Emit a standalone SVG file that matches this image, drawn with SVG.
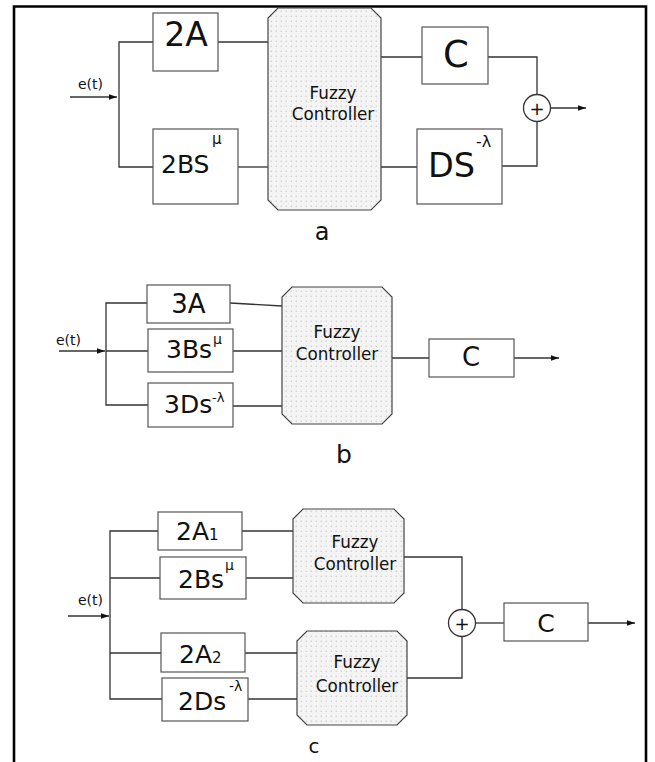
<svg xmlns="http://www.w3.org/2000/svg" width="655" height="762" viewBox="0 0 655 762">
<defs>
<pattern id="dots" width="5" height="5" patternUnits="userSpaceOnUse">
<rect width="5" height="5" fill="#f4f4f4"/>
<circle cx="1.2" cy="1.2" r="0.7" fill="#c8c8c8"/>
</pattern>
<marker id="arr" viewBox="0 0 10 10" refX="10" refY="5" markerWidth="8" markerHeight="8" markerUnits="userSpaceOnUse" orient="auto">
<path d="M0,1.5 L10,5 L0,8.5 Z" fill="#111"/>
</marker>
</defs>
<style>
text{font-family:"DejaVu Sans","Liberation Sans",sans-serif;fill:#111}
.box{fill:#fff;stroke:#555;stroke-width:1.2}
.fc{fill:url(#dots);stroke:#444;stroke-width:1.2}
.ln{fill:none;stroke:#333;stroke-width:1.3}
.sum{fill:#fff;stroke:#333;stroke-width:1.3}
.mid{text-anchor:middle}
.fct{font-size:16.8px;text-anchor:middle}
.et{font-size:14px}
</style>
<rect width="655" height="762" fill="#fff"/>
<path d="M14,762 L14,6.5 L646,6.5 L646,762" fill="none" stroke="#000" stroke-width="2.6"/>

<g id="connectors">
<!-- a -->
<line class="ln" x1="70" y1="97" x2="117" y2="97" marker-end="url(#arr)"/>
<path class="ln" d="M153,42 H119 V167 H153"/>
<line class="ln" x1="218" y1="42" x2="268" y2="42"/>
<line class="ln" x1="238" y1="167" x2="268" y2="167"/>
<line class="ln" x1="381" y1="57" x2="422" y2="57"/>
<line class="ln" x1="381" y1="167" x2="417" y2="167"/>
<path class="ln" d="M488,57 H537 V94.5"/>
<path class="ln" d="M502,166 H537 V121.5"/>
<line class="ln" x1="550.5" y1="108" x2="586" y2="108" marker-end="url(#arr)"/>
<!-- b -->
<line class="ln" x1="59" y1="351" x2="105" y2="351" marker-end="url(#arr)"/>
<path class="ln" d="M147,303 H106 V405 H148"/>
<line class="ln" x1="106" y1="351" x2="148" y2="351"/>
<line class="ln" x1="230" y1="303" x2="282" y2="306"/>
<line class="ln" x1="233" y1="351" x2="282" y2="351"/>
<line class="ln" x1="233" y1="406" x2="282" y2="406"/>
<line class="ln" x1="392" y1="358" x2="429" y2="358"/>
<line class="ln" x1="514" y1="358" x2="559" y2="358" marker-end="url(#arr)"/>
<!-- c -->
<line class="ln" x1="68" y1="616" x2="109" y2="616" marker-end="url(#arr)"/>
<path class="ln" d="M158,531 H110 V699 H162"/>
<line class="ln" x1="110" y1="578" x2="160" y2="578"/>
<line class="ln" x1="110" y1="653" x2="161" y2="653"/>
<line class="ln" x1="242" y1="531" x2="293" y2="531"/>
<line class="ln" x1="246" y1="578" x2="293" y2="578"/>
<line class="ln" x1="245" y1="653" x2="297" y2="653"/>
<line class="ln" x1="248" y1="699" x2="297" y2="699"/>
<path class="ln" d="M404,557 H462 V609.5"/>
<path class="ln" d="M407,678 H462 V636.5"/>
<line class="ln" x1="475.5" y1="623" x2="504" y2="623"/>
<line class="ln" x1="588" y1="623" x2="635" y2="623" marker-end="url(#arr)"/>
</g>

<g id="labels">
<text class="et" x="78" y="89">e(t)</text>
<text class="et" x="56" y="345">e(t)</text>
<text class="et" x="78" y="605">e(t)</text>
<text class="mid" x="322" y="240" font-size="24">a</text>
<text class="mid" x="344" y="463" font-size="25">b</text>
<text class="mid" x="314" y="753" font-size="20">c</text>
</g>

<!-- diagram a -->
<g id="a_2A">
<rect class="box" x="153" y="13" width="65" height="58"/>
<text class="mid" x="186" y="46" font-size="33">2A</text>
</g>
<g id="a_2BS">
<rect class="box" x="153" y="129" width="85" height="75"/>
<text x="161" y="173" font-size="25">2BS</text>
<text x="212" y="144" font-size="15">μ</text>
</g>
<g id="a_fc">
<polygon class="fc" points="278,8 371,8 381,18 381,200 371,210 278,210 268,200 268,18"/>
<text class="fct" x="333" y="99">Fuzzy</text>
<text class="fct" x="333" y="120">Controller</text>
</g>
<g id="a_C">
<rect class="box" x="422" y="27" width="66" height="57"/>
<text class="mid" x="456" y="67" font-size="37">C</text>
</g>
<g id="a_DS">
<rect class="box" x="417" y="129" width="85" height="75"/>
<text x="428" y="177" font-size="33.5">DS</text>
<text x="476" y="147" font-size="16">-λ</text>
</g>
<g id="a_sum">
<circle class="sum" cx="537" cy="108" r="13.5"/>
<text class="mid" x="537" y="114.5" font-size="18">+</text>
</g>

<!-- diagram b -->
<g id="b_3A">
<rect class="box" x="147" y="285" width="83" height="38"/>
<text class="mid" x="188.5" y="313" font-size="26">3A</text>
</g>
<g id="b_3Bs">
<rect class="box" x="148" y="329" width="85" height="43"/>
<text x="166" y="358" font-size="25">3Bs</text>
<text x="213" y="344" font-size="14">μ</text>
</g>
<g id="b_3Ds">
<rect class="box" x="148" y="383" width="85" height="44"/>
<text x="164" y="413" font-size="25">3Ds</text>
<text x="212" y="402" font-size="13">-λ</text>
</g>
<g id="b_fc">
<polygon class="fc" points="292,287 382,287 392,297 392,414 382,424 292,424 282,414 282,297"/>
<text class="fct" x="337" y="338">Fuzzy</text>
<text class="fct" x="337" y="360">Controller</text>
</g>
<g id="b_C">
<rect class="box" x="429" y="339" width="85" height="38"/>
<text class="mid" x="471" y="366" font-size="26">C</text>
</g>

<!-- diagram c -->
<g id="c_2A1">
<rect class="box" x="158" y="512" width="84" height="38"/>
<text x="176" y="540" font-size="25">2A<tspan font-size="15">1</tspan></text>
</g>
<g id="c_2Bs">
<rect class="box" x="160" y="557" width="86" height="42"/>
<text x="178" y="588" font-size="25">2Bs</text>
<text x="225" y="570" font-size="14">μ</text>
</g>
<g id="c_2A2">
<rect class="box" x="161" y="633" width="84" height="39"/>
<text x="179" y="663" font-size="25">2A<tspan font-size="15">2</tspan></text>
</g>
<g id="c_2Ds">
<rect class="box" x="162" y="678" width="86" height="43"/>
<text x="178" y="710" font-size="25">2Ds</text>
<text x="229" y="691" font-size="14">-λ</text>
</g>
<g id="c_fc1">
<polygon class="fc" points="303,509 394,509 404,519 404,593 394,603 303,603 293,593 293,519"/>
<text class="fct" x="355" y="548">Fuzzy</text>
<text class="fct" x="355" y="570">Controller</text>
</g>
<g id="c_fc2">
<polygon class="fc" points="307,631 397,631 407,641 407,715 397,725 307,725 297,715 297,641"/>
<text class="fct" x="357" y="668">Fuzzy</text>
<text class="fct" x="357" y="692">Controller</text>
</g>
<g id="c_sum">
<circle class="sum" cx="462" cy="623" r="13.5"/>
<text class="mid" x="462" y="629.5" font-size="18">+</text>
</g>
<g id="c_C">
<rect class="box" x="504" y="603" width="84" height="38"/>
<text class="mid" x="546" y="632" font-size="25">C</text>
</g>
</svg>
